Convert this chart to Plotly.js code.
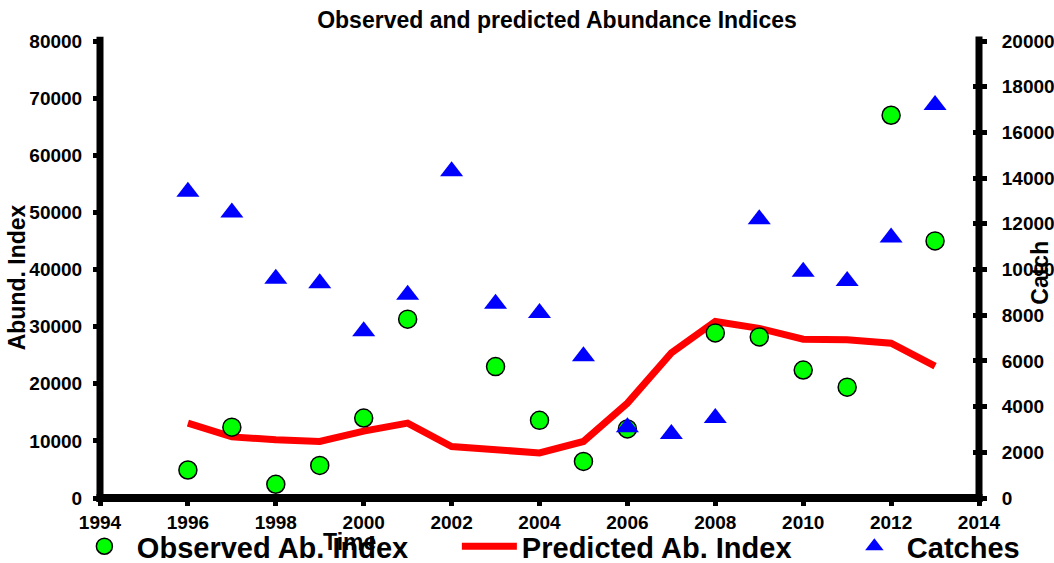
<!DOCTYPE html>
<html><head><meta charset="utf-8">
<script src="https://cdn.plot.ly/plotly-3.0.1.min.js"></script>
<style>html,body{margin:0;padding:0;background:#fff}#chart{width:1054px;height:563px}</style>
</head><body><div id="chart"></div>
<script>
// ---- data ----
const years = [1996, 1997, 1998, 1999, 2000, 2001, 2002, 2003, 2004, 2005, 2006, 2007, 2008, 2009, 2010, 2011, 2012, 2013];
const observedIndex = [4900, 12400, 2400, 5700, 14000, 31300, null, 23000, 13600, 6400, 12100, null, 28900, 28200, 22400, 19400, 67000, 45000];
const predictedIndex = [13100, 10700, 10200, 9900, 11700, 13100, 9000, 8300, 7900, 9900, 16600, 25400, 30900, 29700, 27800, 27700, 27100, 23100];
const catches = [13400, 12500, 9600, 9400, 7300, 8900, 14300, 8500, 8100, 6200, 3100, 2800, 3500, 12200, 9900, 9500, 11400, 17200];
const seriesNames = ['Observed Ab. Index', 'Predicted Ab. Index', 'Catches'];
const chartTitle = 'Observed and predicted Abundance Indices';
const xTitle = 'Time', yTitle = 'Abund. Index', y2Title = 'Catch';

const FONT = '"Liberation Sans", Arial, sans-serif';

const traces = [
  {x: years, y: predictedIndex, name: seriesNames[1], type: 'scatter', mode: 'lines',
   line: {color: '#ff0000', width: 7}, legendrank: 2, legendwidth: 315, hoverinfo: 'skip'},
  {x: years, y: observedIndex, name: seriesNames[0], type: 'scatter', mode: 'markers',
   marker: {symbol: 'circle', size: 18, color: '#00ff00', line: {color: '#000', width: 1.5}},
   legendrank: 1, legendwidth: 315, hoverinfo: 'skip'},
  {x: years, y: catches, name: seriesNames[2], type: 'scatter', mode: 'markers', yaxis: 'y2',
   marker: {symbol: 'triangle-up', size: 20, color: '#0000ff'}, legendrank: 3, hoverinfo: 'skip'},
  {x: years, y: catches, yaxis: 'y3', type: 'scatter', mode: 'none', showlegend: false, hoverinfo: 'skip'}
];

const tickStyle = {ticks: 'outside', tickcolor: '#000', tickwidth: 5, showgrid: false, zeroline: false,
  showline: false, tickformat: 'd', tickfont: {family: FONT, size: 19, weight: 'bold', color: '#000'}};

const layout = {
  width: 1054, height: 563,
  margin: {l: 100, r: 75, t: 41, b: 65, autoexpand: false},
  paper_bgcolor: '#fff', plot_bgcolor: '#fff',
  font: {family: FONT, color: '#000'},
  title: {text: chartTitle, font: {family: FONT, size: 23, weight: 'bold', color: '#000'},
          x: 0.5285, xanchor: 'center', y: 0.9645, yanchor: 'middle'},
  xaxis: Object.assign({}, tickStyle, {range: [1994, 2014], tick0: 1994, dtick: 2, ticklen: 7}),
  yaxis: Object.assign({}, tickStyle, {range: [0, 80000], dtick: 10000, ticklen: 6, ticklabelstandoff: 7}),
  yaxis2: Object.assign({}, tickStyle, {range: [0, 20000], dtick: 2000, ticklen: 7, overlaying: 'y',
          side: 'right', anchor: 'x', ticklabelstandoff: 11}),
  yaxis3: Object.assign({}, tickStyle, {range: [0, 20000], dtick: 2000, ticklen: 6, ticks: 'inside',
          overlaying: 'y', side: 'right', anchor: 'x', showticklabels: false}),
  showlegend: true,
  legend: {orientation: 'h', x: -0.032, xanchor: 'left', y: -0.050, yanchor: 'top',
           itemwidth: 55, bgcolor: 'rgba(0,0,0,0)', borderwidth: 0,
           font: {family: FONT, size: 29, weight: 'bold', color: '#000'}},
  shapes: [
    {type: 'line', xref: 'paper', yref: 'paper', x0: 0, x1: 0, y0: -0.009, y1: 1.0094, line: {color: '#000', width: 7}},
    {type: 'line', xref: 'paper', yref: 'paper', x0: -0.004, x1: 1.004, y0: 0, y1: 0, line: {color: '#000', width: 8}},
    {type: 'line', xref: 'paper', yref: 'paper', x0: 1, x1: 1, y0: -0.009, y1: 1.0098, line: {color: '#000', width: 7}}
  ],
  annotations: [
    {text: yTitle, xref: 'paper', yref: 'paper', x: -0.0935, y: 0.4825, xanchor: 'center', yanchor: 'middle',
     textangle: -90, showarrow: false, font: {family: FONT, size: 23, weight: 'bold', color: '#000'}},
    {text: y2Title, xref: 'paper', yref: 'paper', x: 1.0694, y: 0.493, xanchor: 'center', yanchor: 'middle',
     textangle: -90, showarrow: false, font: {family: FONT, size: 23, weight: 'bold', color: '#000'}},
    {text: xTitle, xref: 'paper', yref: 'paper', x: 0.2844, y: -0.0952, xanchor: 'center', yanchor: 'middle',
     showarrow: false, font: {family: FONT, size: 23, weight: 'bold', color: '#000'}}
  ]
};

Plotly.newPlot('chart', traces, layout, {displayModeBar: false, staticPlot: true});
</script></body></html>
